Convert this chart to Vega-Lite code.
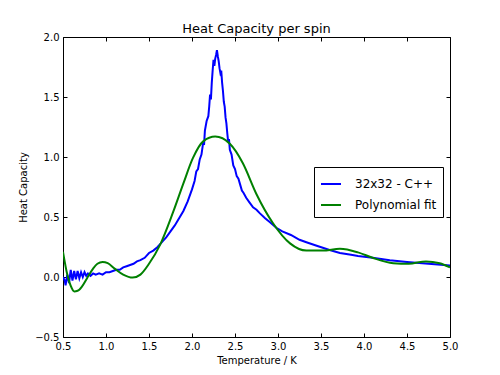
{
  "$schema": "https://vega.github.io/schema/vega-lite/v6.json",
  "autosize": "none",
  "width": 387,
  "height": 300,
  "padding": {"left": 63, "top": 37, "right": 50, "bottom": 38},
  "background": "white",
  "title": {"text": "Heat Capacity per spin", "fontSize": 13, "fontWeight": "normal", "font": "DejaVu Sans", "color": "black", "offset": -4},
  "datasets": {
    "blue": [
      {"temperature": 0.50, "heat_capacity": 0.00}, {"temperature": 0.52, "heat_capacity": -0.03}, {"temperature": 0.53, "heat_capacity": -0.07},
      {"temperature": 0.55, "heat_capacity": 0.02}, {"temperature": 0.57, "heat_capacity": -0.05}, {"temperature": 0.59, "heat_capacity": 0.06},
      {"temperature": 0.61, "heat_capacity": -0.03}, {"temperature": 0.63, "heat_capacity": 0.05}, {"temperature": 0.65, "heat_capacity": -0.02},
      {"temperature": 0.67, "heat_capacity": 0.05}, {"temperature": 0.69, "heat_capacity": -0.01}, {"temperature": 0.71, "heat_capacity": 0.04},
      {"temperature": 0.73, "heat_capacity": 0.00}, {"temperature": 0.75, "heat_capacity": 0.04}, {"temperature": 0.77, "heat_capacity": 0.01},
      {"temperature": 0.79, "heat_capacity": 0.03}, {"temperature": 0.82, "heat_capacity": 0.01}, {"temperature": 0.85, "heat_capacity": 0.03},
      {"temperature": 0.88, "heat_capacity": 0.02}, {"temperature": 0.92, "heat_capacity": 0.03}, {"temperature": 0.96, "heat_capacity": 0.02},
      {"temperature": 1.00, "heat_capacity": 0.04}, {"temperature": 1.04, "heat_capacity": 0.04}, {"temperature": 1.08, "heat_capacity": 0.05},
      {"temperature": 1.12, "heat_capacity": 0.06}, {"temperature": 1.16, "heat_capacity": 0.06}, {"temperature": 1.20, "heat_capacity": 0.08},
      {"temperature": 1.24, "heat_capacity": 0.09}, {"temperature": 1.28, "heat_capacity": 0.10}, {"temperature": 1.32, "heat_capacity": 0.11},
      {"temperature": 1.36, "heat_capacity": 0.13}, {"temperature": 1.40, "heat_capacity": 0.14}, {"temperature": 1.45, "heat_capacity": 0.16},
      {"temperature": 1.50, "heat_capacity": 0.20}, {"temperature": 1.55, "heat_capacity": 0.22}, {"temperature": 1.60, "heat_capacity": 0.25},
      {"temperature": 1.65, "heat_capacity": 0.29}, {"temperature": 1.70, "heat_capacity": 0.33}, {"temperature": 1.75, "heat_capacity": 0.38},
      {"temperature": 1.80, "heat_capacity": 0.43}, {"temperature": 1.85, "heat_capacity": 0.49}, {"temperature": 1.90, "heat_capacity": 0.55},
      {"temperature": 1.95, "heat_capacity": 0.63}, {"temperature": 2.00, "heat_capacity": 0.73}, {"temperature": 2.03, "heat_capacity": 0.80},
      {"temperature": 2.05, "heat_capacity": 0.88}, {"temperature": 2.07, "heat_capacity": 0.90}, {"temperature": 2.09, "heat_capacity": 0.98},
      {"temperature": 2.11, "heat_capacity": 1.02}, {"temperature": 2.13, "heat_capacity": 1.12}, {"temperature": 2.14, "heat_capacity": 1.10},
      {"temperature": 2.15, "heat_capacity": 1.22}, {"temperature": 2.17, "heat_capacity": 1.30}, {"temperature": 2.19, "heat_capacity": 1.34},
      {"temperature": 2.20, "heat_capacity": 1.42}, {"temperature": 2.21, "heat_capacity": 1.52}, {"temperature": 2.22, "heat_capacity": 1.48},
      {"temperature": 2.23, "heat_capacity": 1.62}, {"temperature": 2.24, "heat_capacity": 1.72}, {"temperature": 2.25, "heat_capacity": 1.81},
      {"temperature": 2.26, "heat_capacity": 1.76}, {"temperature": 2.27, "heat_capacity": 1.82}, {"temperature": 2.28, "heat_capacity": 1.85},
      {"temperature": 2.29, "heat_capacity": 1.89}, {"temperature": 2.30, "heat_capacity": 1.84}, {"temperature": 2.31, "heat_capacity": 1.80},
      {"temperature": 2.32, "heat_capacity": 1.74}, {"temperature": 2.33, "heat_capacity": 1.70}, {"temperature": 2.34, "heat_capacity": 1.72},
      {"temperature": 2.35, "heat_capacity": 1.62}, {"temperature": 2.36, "heat_capacity": 1.55}, {"temperature": 2.37, "heat_capacity": 1.46},
      {"temperature": 2.38, "heat_capacity": 1.42}, {"temperature": 2.39, "heat_capacity": 1.33}, {"temperature": 2.40, "heat_capacity": 1.28},
      {"temperature": 2.41, "heat_capacity": 1.20}, {"temperature": 2.42, "heat_capacity": 1.13}, {"temperature": 2.43, "heat_capacity": 1.15},
      {"temperature": 2.44, "heat_capacity": 1.06}, {"temperature": 2.46, "heat_capacity": 1.02}, {"temperature": 2.48, "heat_capacity": 0.93},
      {"temperature": 2.50, "heat_capacity": 0.90}, {"temperature": 2.52, "heat_capacity": 0.84}, {"temperature": 2.54, "heat_capacity": 0.82},
      {"temperature": 2.56, "heat_capacity": 0.77}, {"temperature": 2.58, "heat_capacity": 0.72}, {"temperature": 2.60, "heat_capacity": 0.70},
      {"temperature": 2.63, "heat_capacity": 0.66}, {"temperature": 2.67, "heat_capacity": 0.62}, {"temperature": 2.71, "heat_capacity": 0.58},
      {"temperature": 2.75, "heat_capacity": 0.56}, {"temperature": 2.79, "heat_capacity": 0.53}, {"temperature": 2.85, "heat_capacity": 0.49},
      {"temperature": 2.90, "heat_capacity": 0.46}, {"temperature": 2.98, "heat_capacity": 0.41}, {"temperature": 3.05, "heat_capacity": 0.38},
      {"temperature": 3.15, "heat_capacity": 0.35}, {"temperature": 3.25, "heat_capacity": 0.31}, {"temperature": 3.33, "heat_capacity": 0.29},
      {"temperature": 3.45, "heat_capacity": 0.26}, {"temperature": 3.60, "heat_capacity": 0.225}, {"temperature": 3.72, "heat_capacity": 0.20},
      {"temperature": 3.85, "heat_capacity": 0.185}, {"temperature": 3.93, "heat_capacity": 0.175}, {"temperature": 4.10, "heat_capacity": 0.16},
      {"temperature": 4.30, "heat_capacity": 0.14}, {"temperature": 4.50, "heat_capacity": 0.125}, {"temperature": 4.75, "heat_capacity": 0.11},
      {"temperature": 5.00, "heat_capacity": 0.095}
    ],
    "green": [
      {"temperature": 0.50, "heat_capacity": 0.21}, {"temperature": 0.55, "heat_capacity": 0.02}, {"temperature": 0.60, "heat_capacity": -0.09},
      {"temperature": 0.63, "heat_capacity": -0.12}, {"temperature": 0.67, "heat_capacity": -0.115}, {"temperature": 0.72, "heat_capacity": -0.08},
      {"temperature": 0.78, "heat_capacity": -0.01}, {"temperature": 0.85, "heat_capacity": 0.07}, {"temperature": 0.90, "heat_capacity": 0.11},
      {"temperature": 0.96, "heat_capacity": 0.125}, {"temperature": 1.02, "heat_capacity": 0.115}, {"temperature": 1.10, "heat_capacity": 0.07},
      {"temperature": 1.20, "heat_capacity": 0.02}, {"temperature": 1.31, "heat_capacity": -0.005}, {"temperature": 1.40, "heat_capacity": 0.02},
      {"temperature": 1.50, "heat_capacity": 0.11}, {"temperature": 1.63, "heat_capacity": 0.27}, {"temperature": 1.78, "heat_capacity": 0.54},
      {"temperature": 1.90, "heat_capacity": 0.78}, {"temperature": 2.01, "heat_capacity": 0.99}, {"temperature": 2.13, "heat_capacity": 1.13},
      {"temperature": 2.27, "heat_capacity": 1.17}, {"temperature": 2.44, "heat_capacity": 1.11}, {"temperature": 2.59, "heat_capacity": 0.95},
      {"temperature": 2.75, "heat_capacity": 0.69}, {"temperature": 2.94, "heat_capacity": 0.45}, {"temperature": 3.14, "heat_capacity": 0.28},
      {"temperature": 3.33, "heat_capacity": 0.22}, {"temperature": 3.52, "heat_capacity": 0.22}, {"temperature": 3.72, "heat_capacity": 0.235},
      {"temperature": 3.93, "heat_capacity": 0.205}, {"temperature": 4.10, "heat_capacity": 0.16}, {"temperature": 4.34, "heat_capacity": 0.115},
      {"temperature": 4.52, "heat_capacity": 0.11}, {"temperature": 4.72, "heat_capacity": 0.13}, {"temperature": 4.88, "heat_capacity": 0.115},
      {"temperature": 5.00, "heat_capacity": 0.08}
    ]
  },
  "layer": [
    {
      "data": {"name": "blue"},
      "transform": [{"calculate": "'32x32 - C++'", "as": "series"}],
      "mark": {"type": "line", "strokeWidth": 2, "clip": true},
      "encoding": {
        "x": {"field": "temperature", "type": "quantitative", "scale": {"domain": [0.5, 5.0], "nice": false, "zero": false},
              "axis": {"orient": "bottom", "title": "Temperature / K", "values": [0.5,1.0,1.5,2.0,2.5,3.0,3.5,4.0,4.5,5.0], "format": ".1f", "labelFlush": false, "labelOverlap": false}},
        "y": {"field": "heat_capacity", "type": "quantitative", "scale": {"domain": [-0.5, 2.0], "nice": false, "zero": false},
              "axis": {"orient": "left", "title": "Heat Capacity", "titlePadding": 6, "values": [-0.5,0.0,0.5,1.0,1.5,2.0], "format": ".1f", "labelFlush": false, "labelOverlap": false}},
        "color": {"field": "series", "type": "nominal",
                  "scale": {"domain": ["32x32 - C++", "Polynomial fit"], "range": ["#0000ff", "#008000"]},
                  "legend": {"title": null}}
      }
    },
    {
      "data": {"name": "green"},
      "transform": [{"calculate": "'Polynomial fit'", "as": "series"}],
      "mark": {"type": "line", "strokeWidth": 2, "interpolate": "monotone", "clip": true},
      "encoding": {
        "x": {"field": "temperature", "type": "quantitative",
              "axis": {"orient": "top", "title": null, "labels": false, "values": [0.5,1.0,1.5,2.0,2.5,3.0,3.5,4.0,4.5,5.0]}},
        "y": {"field": "heat_capacity", "type": "quantitative",
              "axis": {"orient": "right", "title": null, "labels": false, "values": [-0.5,0.0,0.5,1.0,1.5,2.0]}},
        "color": {"field": "series", "type": "nominal"}
      }
    }
  ],
  "resolve": {"axis": {"x": "independent", "y": "independent"}},
  "config": {
    "font": "DejaVu Sans",
    "view": {"stroke": "black", "strokeWidth": 1},
    "axis": {
      "grid": false, "domain": false,
      "tickColor": "black", "tickSize": -4, "tickWidth": 1,
      "labelColor": "black", "labelFontSize": 10, "labelPadding": 8, "labelFont": "DejaVu Sans",
      "titleColor": "black", "titleFontSize": 10, "titleFontWeight": "normal", "titleFont": "DejaVu Sans", "titlePadding": 4
    },
    "legend": {
      "orient": "none", "legendX": 251, "legendY": 130,
      "strokeColor": "black", "fillColor": "white", "cornerRadius": 0, "padding": 6, "rowPadding": 4,
      "symbolType": "stroke", "symbolSize": 400, "symbolStrokeWidth": 2,
      "labelFontSize": 12, "labelFont": "DejaVu Sans", "labelColor": "black", "labelOffset": 13
    }
  }
}
